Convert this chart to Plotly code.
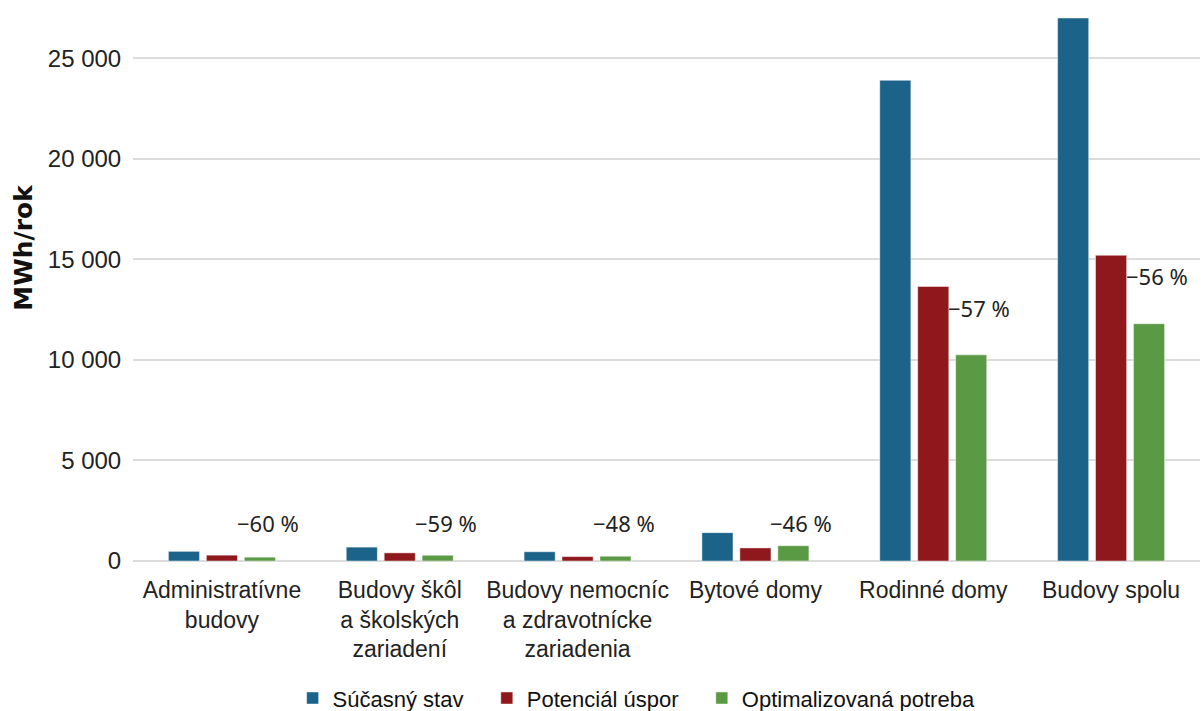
import plotly.graph_objects as go

# Categories of buildings (x axis)
categories = [
    "Administratívne<br>budovy",
    "Budovy škôl<br>a školských<br>zariadení",
    "Budovy nemocníc<br>a zdravotnícke<br>zariadenia",
    "Bytové domy",
    "Rodinné domy",
    "Budovy spolu",
]

# Energy demand, MWh/rok
sucasny_stav = [480, 690, 460, 1410, 23900, 27000]
potencial_uspor = [290, 405, 220, 650, 13650, 15200]
optimalizovana_potreba = [190, 285, 240, 760, 10250, 11800]

series_names = ["Súčasný stav", "Potenciál úspor", "Optimalizovaná potreba"]
y_ticks = [0, 5000, 10000, 15000, 20000, 25000]
y_tick_text = ["0", "5 000", "10 000", "15 000", "20 000", "25 000"]

colors = ["#1b6389", "#8e181c", "#5b9a44"]
base_font = "Liberation Sans, Arial, sans-serif"
legend_pad = ["\u00a0\u00a0\u00a0", "\u00a0\u00a0\u00a0", ""]

fig = go.Figure()
for name, pad, vals, col in zip(series_names, legend_pad,
                                [sucasny_stav, potencial_uspor, optimalizovana_potreba],
                                colors):
    fig.add_trace(go.Bar(
        name=name + pad, x=categories, y=vals,
        marker=dict(color=col, line=dict(color="rgba(255,255,255,0.45)", width=1)),
    ))

# Savings percentage labels next to each group
for cat, cur, sav in zip(categories, sucasny_stav, potencial_uspor):
    pct = round(100 * sav / cur)
    fig.add_annotation(
        x=cat, y=max(sav - 1050, 1900), xref="x", yref="y",
        text=f"\u2212{pct} %", showarrow=False, xshift=46,
        font=dict(family="Noto Sans, Open Sans, sans-serif", size=22, color="#222222"),
    )

# Axis title
fig.add_annotation(
    x=0, xref="paper", xshift=-126, y=0.578, yref="paper",
    text="<b>MWh/rok</b>", textangle=-90, showarrow=False,
    font=dict(family="DejaVu Sans, sans-serif", size=25, color="#111111"),
)

fig.update_layout(
    width=1203, height=711,
    margin=dict(l=133, r=3, t=18, b=150, autoexpand=False),
    paper_bgcolor="white", plot_bgcolor="white",
    barmode="group", bargap=0.36, bargroupgap=0.18,
    showlegend=True,
    legend=dict(
        orientation="h", x=0.472, xanchor="center",
        yref="container", y=0.018, yanchor="middle",
        font=dict(family=base_font, size=22, color="#111111"),
        itemclick=False,
    ),
    xaxis=dict(
        tickfont=dict(family=base_font, size=23, color="#222222"),
        ticks="outside", ticklen=8, tickcolor="rgba(0,0,0,0)",
        showline=False, showgrid=False, automargin=False,
    ),
    yaxis=dict(
        range=[0, 27000], tickvals=y_ticks, ticktext=y_tick_text,
        tickfont=dict(family=base_font, size=24, color="#222222"),
        showgrid=True, gridcolor="#dcdcdc", gridwidth=1.5,
        zeroline=True, zerolinecolor="#dcdcdc", zerolinewidth=1.5,
        ticks="outside", ticklen=6, tickcolor="rgba(0,0,0,0)", automargin=False,
    ),
)

fig.write_html("out.html")
